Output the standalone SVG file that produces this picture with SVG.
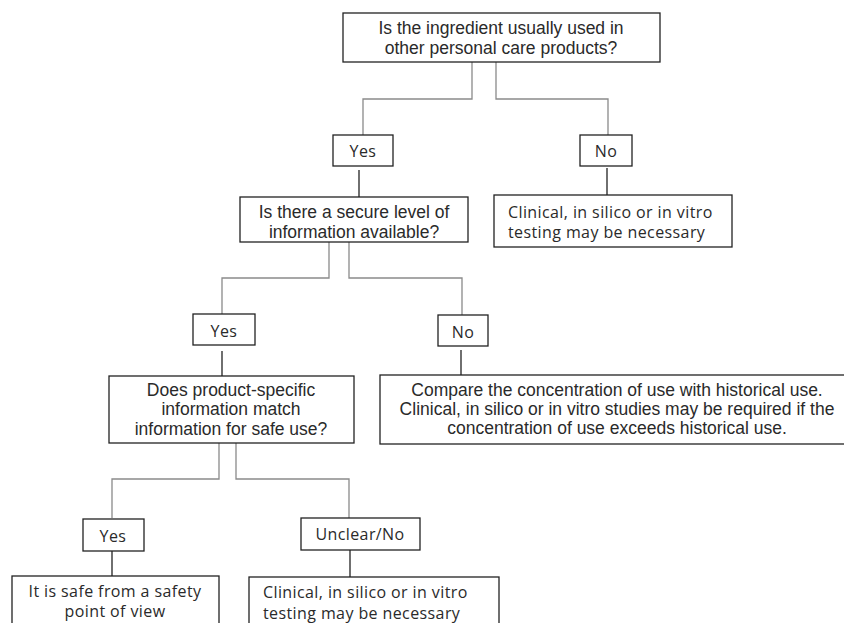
<svg xmlns="http://www.w3.org/2000/svg" width="844" height="623" viewBox="0 0 844 623">
<style>
.box{fill:#fff;stroke:#222;stroke-width:1.3}
.a{font-family:"Liberation Sans",Arial,sans-serif;font-size:17.5px;fill:#2a2a2a;text-anchor:middle}
.c{font-family:"Open Sans","Noto Sans",sans-serif;font-size:16px;letter-spacing:0.4px;fill:#2a2a2a}
.cm{text-anchor:middle}
.g{fill:none;stroke:#8a8a8a;stroke-width:1.3}
.k{fill:none;stroke:#222;stroke-width:1.3}
</style>
<rect width="844" height="623" fill="#fff"/>
<g id="connectors">
<polyline class="g" points="472,62 472,99 363,99 363,135"/>
<polyline class="g" points="496,62 496,99 608,99 608,135"/>
<line class="k" x1="359" y1="170" x2="359" y2="197"/>
<line class="k" x1="607" y1="168" x2="607" y2="195"/>
<polyline class="g" points="329,242 329,278 222,278 222,314"/>
<polyline class="g" points="349,242 349,278 462,278 462,315"/>
<line class="k" x1="222" y1="351" x2="222" y2="376"/>
<line class="k" x1="461" y1="350" x2="461" y2="375"/>
<polyline class="g" points="219,443 219,479 112,479 112,518"/>
<polyline class="g" points="236,443 236,479 349,479 349,518"/>
<line class="k" x1="112" y1="551" x2="112" y2="576"/>
<line class="k" x1="350" y1="550" x2="350" y2="577"/>
</g>
<g id="q1">
<rect class="box" x="343" y="13" width="317" height="49"/>
<text class="a" x="501" y="34">Is the ingredient usually used in</text>
<text class="a" x="501" y="54">other personal care products?</text>
</g>
<g id="yes1">
<rect class="box" x="333" y="135" width="60" height="31"/>
<text class="c cm" x="363" y="157">Yes</text>
</g>
<g id="no1">
<rect class="box" x="580" y="135" width="52" height="31"/>
<text class="c cm" x="606" y="157">No</text>
</g>
<g id="r1">
<rect class="box" x="494" y="195" width="238" height="52"/>
<text class="c" x="508" y="218">Clinical, in silico or in vitro</text>
<text class="c" x="508" y="238">testing may be necessary</text>
</g>
<g id="q2">
<rect class="box" x="240" y="197" width="228" height="45"/>
<text class="a" x="354" y="218">Is there a secure level of</text>
<text class="a" x="354" y="238">information available?</text>
</g>
<g id="yes2">
<rect class="box" x="193" y="314" width="62" height="31"/>
<text class="c cm" x="224" y="337">Yes</text>
</g>
<g id="no2">
<rect class="box" x="438" y="315" width="50" height="31"/>
<text class="c cm" x="463" y="338">No</text>
</g>
<g id="r2">
<rect class="box" x="380" y="375" width="470" height="69"/>
<text class="a" x="617" y="396">Compare the concentration of use with historical use.</text>
<text class="a" x="617" y="415">Clinical, in silico or in vitro studies may be required if the</text>
<text class="a" x="617" y="434">concentration of use exceeds historical use.</text>
</g>
<g id="q3">
<rect class="box" x="109" y="376" width="245" height="67"/>
<text class="a" x="231" y="396">Does product-specific</text>
<text class="a" x="231" y="415">information match</text>
<text class="a" x="231" y="435">information for safe use?</text>
</g>
<g id="yes3">
<rect class="box" x="83" y="519" width="61" height="32"/>
<text class="c cm" x="113" y="542">Yes</text>
</g>
<g id="unclear">
<rect class="box" x="301" y="518" width="119" height="32"/>
<text class="c cm" x="360" y="540">Unclear/No</text>
</g>
<g id="r3">
<rect class="box" x="12" y="576" width="207" height="60"/>
<text class="c cm" x="115" y="597">It is safe from a safety</text>
<text class="c cm" x="115" y="617">point of view</text>
</g>
<g id="r4">
<rect class="box" x="249" y="577" width="250" height="60"/>
<text class="c" x="263" y="598">Clinical, in silico or in vitro</text>
<text class="c" x="263" y="619">testing may be necessary</text>
</g>
</svg>
